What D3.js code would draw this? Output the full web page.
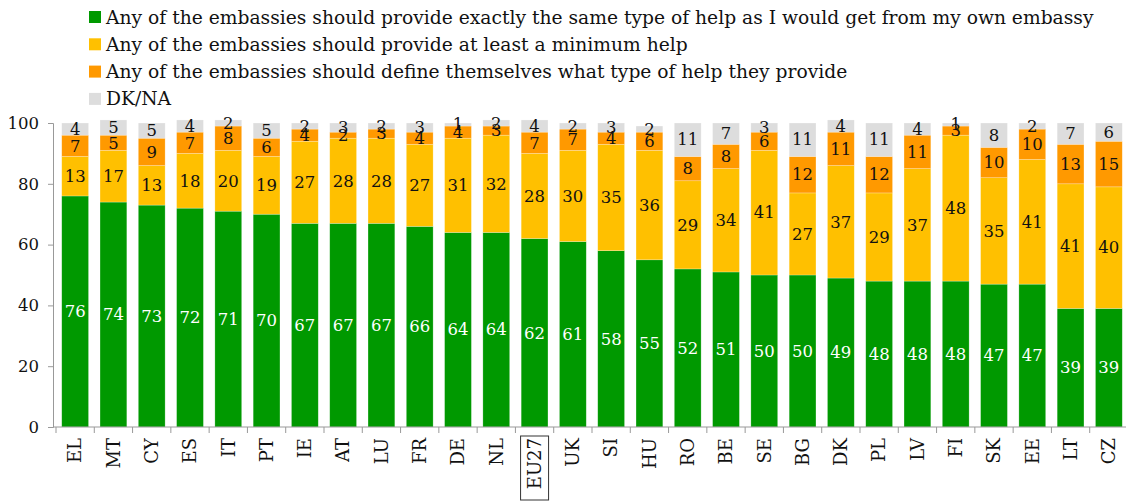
<!DOCTYPE html>
<html lang="en">
<head>
  <meta charset="UTF-8" />
  <title>Embassy help stacked bars</title>
  <script src="https://d3js.org/d3.v7.min.js"></script>
  <style>
    body { margin: 0; background: #fff; }
    svg { display: block; font-family: "DejaVu Serif", serif; }
  </style>
</head>
<body>
  <div id="chart"></div>
  <script>
    const countries = ["EL","MT","CY","ES","IT","PT","IE","AT","LU","FR","DE","NL","EU27","UK","SI","HU","RO","BE","SE","BG","DK","PL","LV","FI","SK","EE","LT","CZ"];
    const sameHelp = [76,74,73,72,71,70,67,67,67,66,64,64,62,61,58,55,52,51,50,50,49,48,48,48,47,47,39,39];
    const minimumHelp = [13,17,13,18,20,19,27,28,28,27,31,32,28,30,35,36,29,34,41,27,37,29,37,48,35,41,41,40];
    const defineHelp = [7,5,9,7,8,6,4,2,3,4,4,3,7,7,4,6,8,8,6,12,11,12,11,3,10,10,13,15];
    const dkna = [4,5,5,4,2,5,2,3,2,3,1,2,4,2,3,2,11,7,3,11,4,11,4,1,8,2,7,6];
    const seriesNames = [
      "Any of the embassies should provide exactly the same type of help as I would get from my own embassy",
      "Any of the embassies should provide at least a minimum help",
      "Any of the embassies should define themselves what type of help they provide",
      "DK/NA"
    ];
    const yTicks = [0, 20, 40, 60, 80, 100];

    const width = 1126, height = 501;
    const colors = ["#009900", "#FFC000", "#FF9900", "#DDDDDD"];
    const keys = ["same", "minimum", "define", "dkna"];

    const rows = countries.map((c, i) => ({
      country: c, same: sameHelp[i], minimum: minimumHelp[i], define: defineHelp[i], dkna: dkna[i]
    }));

    const svg = d3.select("#chart").append("svg")
      .attr("width", width).attr("height", height);

    const x = d3.scaleBand().domain(countries).range([56, 1128]).paddingInner(0.3).paddingOuter(0.15);
    const y = d3.scaleLinear().domain([0, 100]).range([427, 123]);

    const layers = d3.stack().keys(keys)(rows);

    // legend
    const legend = svg.append("g");
    seriesNames.forEach((name, i) => {
      const ly = 17 + i * 27.3;
      legend.append("rect").attr("x", 89).attr("y", ly - 6).attr("width", 12).attr("height", 12)
        .attr("fill", colors[i]);
      legend.append("text").attr("x", 106).attr("y", ly + 6.5)
        .attr("font-size", 18.7).attr("fill", "#111").text(name);
    });

    // bars
    const g = svg.append("g");
    layers.forEach((layer, li) => {
      g.append("g").selectAll("rect").data(layer).join("rect")
        .attr("x", d => x(d.data.country))
        .attr("width", x.bandwidth())
        .attr("y", d => y(d[1]))
        .attr("height", d => y(d[0]) - y(d[1]))
        .attr("fill", colors[li])
        .attr("stroke", "#fff").attr("stroke-opacity", 0.4).attr("stroke-width", 0.6);
    });

    // value labels, centred in each segment
    layers.forEach((layer, li) => {
      g.append("g").selectAll("text").data(layer).join("text")
        .attr("x", d => x(d.data.country) + x.bandwidth() / 2)
        .attr("y", d => y((d[0] + d[1]) / 2))
        .attr("dy", "0.35em")
        .attr("text-anchor", "middle")
        .attr("font-size", 16.5)
        .attr("fill", li === 0 ? "#fff" : "#111")
        .text(d => d.data[keys[li]]);
    });

    // y axis
    const yAxis = svg.append("g").attr("transform", "translate(53,0)")
      .call(d3.axisLeft(y).tickValues(yTicks).tickSize(5).tickPadding(9));
    yAxis.select(".domain").attr("stroke", "#999");
    yAxis.selectAll(".tick line").attr("stroke", "#999");
    yAxis.selectAll(".tick text").attr("font-size", 16.5).attr("fill", "#111")
      .attr("font-family", "DejaVu Serif, serif");

    // x axis
    const gap = x.step() * x.paddingInner() / 2;
    const xAxis = svg.append("g").attr("transform", "translate(0,427)");
    xAxis.append("line").attr("x1", 53).attr("x2", 1126).attr("stroke", "#999");
    xAxis.selectAll("line.tk").data(countries).join("line").attr("class", "tk")
      .attr("x1", d => x(d) - gap)
      .attr("x2", d => x(d) - gap)
      .attr("y1", 0).attr("y2", 6).attr("stroke", "#999");
    xAxis.selectAll("text").data(countries).join("text")
      .attr("transform", d => `translate(${x(d) + x.bandwidth() / 2},11) rotate(-90)`)
      .attr("text-anchor", "end")
      .attr("dy", "0.35em")
      .attr("font-size", 18)
      .attr("fill", "#111")
      .text(d => d);

    // box around EU27
    const eu = x("EU27") + x.bandwidth() / 2;
    xAxis.append("rect").attr("x", eu - 14).attr("y", 9).attr("width", 28).attr("height", 64)
      .attr("fill", "none").attr("stroke", "#333").attr("stroke-width", 1);
  </script>
</body>
</html>
